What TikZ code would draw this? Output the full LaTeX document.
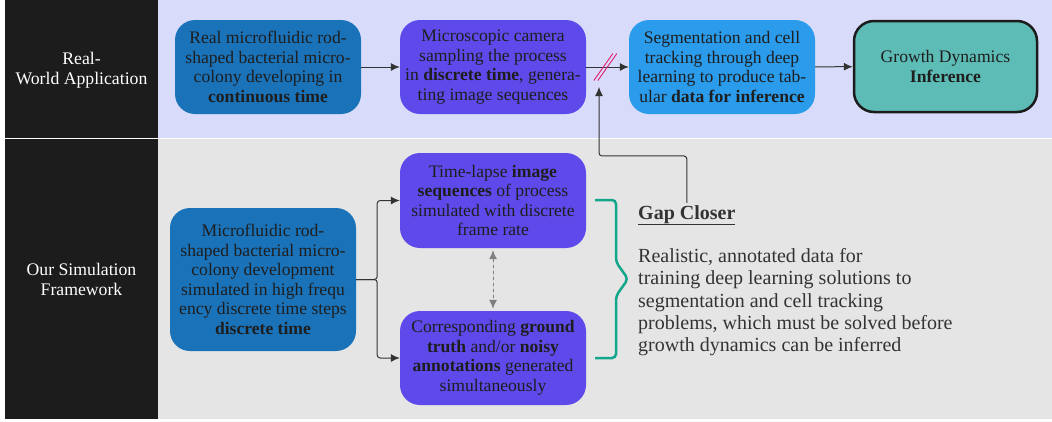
\documentclass[tikz,border=0pt]{standalone}
\usepackage{fontspec}
\setmainfont{Liberation Serif}
\usepackage{xcolor}
\usepackage{tikz}
\usetikzlibrary{arrows.meta,positioning}

\definecolor{panelblack}{RGB}{28,28,28}
\definecolor{topband}{RGB}{216,220,250}
\definecolor{botband}{RGB}{229,229,229}
\definecolor{deepblue}{RGB}{26,114,185}
\definecolor{violet}{RGB}{94,74,234}
\definecolor{skyblue}{RGB}{43,155,236}
\definecolor{tealbox}{RGB}{93,188,182}
\definecolor{cutpink}{RGB}{226,30,110}
\definecolor{bracegreen}{RGB}{20,166,138}
\definecolor{txt}{RGB}{30,30,30}

\begin{document}
\begin{tikzpicture}[x=1pt, y=-1pt,
  box/.style={rounded corners=20pt, minimum width=186pt, minimum height=94pt,
              align=center, text=txt, font=\fontsize{17.6}{19.5}\selectfont, inner sep=0pt},
  side/.style={text=white, align=center, font=\fontsize{17.7}{20}\selectfont},
  arr/.style={-{Latex[length=9pt,width=8pt]}, line width=1pt, draw=black!80},
  fork/.style={arr, rounded corners=3pt},
  slash/.style={draw=cutpink, line width=0.9pt}
]
  \useasboundingbox (0,0) rectangle (1052,421);
  % bands
  \fill[panelblack] (5,0) rectangle (158,137.5);
  \fill[topband] (158,0) rectangle (1052,137.5);
  \fill[panelblack] (5,139) rectangle (158,419);
  \fill[botband] (158,139) rectangle (1052,419);
  \node[side] (real) at (81.5,70) {Real-\\World Application};
  \node[side] (ours) at (81.5,279) {Our Simulation\\Framework};

  % real-world row
  \node[box, fill=deepblue] (colony) at (268,67)
    {Real microfluidic rod-\\shaped bacterial micro-\\colony developing in\\\textbf{continuous time}};
  \node[box, fill=violet] (camera) at (493,67)
    {Microscopic camera\\sampling the process\\in \textbf{discrete time}, genera-\\ting image sequences};
  \node[box, fill=skyblue] (tracking) at (722,67)
    {Segmentation and cell\\tracking through deep\\learning to produce tab-\\ular \textbf{data for inference}};
  \node[box, fill=tealbox, draw=panelblack, line width=2.5pt, minimum width=183pt,
        minimum height=91pt] (inference) at (945.5,66.5)
    {Growth Dynamics\\\textbf{Inference}};
  \draw[arr] (colony) -- (camera);
  \draw[arr] (camera) -- (tracking) coordinate[pos=0.45] (cut);
  \draw[arr] (tracking) -- (inference);
  \draw[slash] ([shift={(-11.5,13.5)}]cut) -- ([shift={(7.5,-13.5)}]cut);
  \draw[slash] ([shift={(-7.5,13.5)}]cut) -- ([shift={(11.5,-13.5)}]cut);

  % simulation row
  \node[box, fill=deepblue, minimum height=143pt] (sim) at (263,279.5)
    {Microfluidic rod-\\shaped bacterial micro-\\colony development\\simulated in high frequ\\ency discrete time steps\\\textbf{discrete time}};
  \node[box, fill=violet, minimum height=95pt] (images) at (493,200.5)
    {Time-lapse \textbf{image}\\\textbf{sequences} of process\\simulated with discrete\\frame rate};
  \node[box, fill=violet] (truth) at (493,358)
    {Corresponding \textbf{ground}\\\textbf{truth} and/or \textbf{noisy}\\\textbf{annotations} generated\\simultaneously};
  \draw[fork] (sim.east) -- ++(21,0) |- (images.west);
  \draw[fork] (sim.east) -- ++(21,0) |- (truth.west);
  \draw[{Latex[length=9pt,width=8pt]}-{Latex[length=9pt,width=8pt]}, dashed,
        draw=black!50, fill=black!50, line width=1pt, shorten <=2pt, shorten >=2pt]
    (images.south) -- (truth.north);

  % gap closer
  \draw[bracegreen, line width=2.5pt, rounded corners=4pt]
    (595,200) -- (616,200) -- (616,262) -- (628,279) -- (616,296) -- (616,358) -- (595,358);
  \node[anchor=base west, inner sep=0pt, text=black!80,
        font=\fontsize{20}{22}\selectfont\bfseries] (gap) at (638,219)
    {\underline{Gap Closer}};
  \node[anchor=north west, inner sep=0pt, align=left, text=black!80,
        font=\fontsize{20}{22.4}\selectfont] (note) at (638,248)
    {Realistic, annotated data for\\training deep learning solutions to\\segmentation and cell tracking\\problems, which must be solved before\\growth dynamics can be inferred};
  \coordinate (tip) at (599,87);
  \draw[arr, rounded corners=3pt] ([yshift=2pt]gap.north) -- ++(0,-47) -| (tip);
\end{tikzpicture}
\end{document}
